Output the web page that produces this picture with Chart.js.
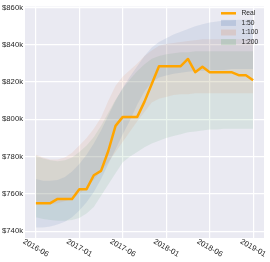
<!DOCTYPE html>
<html>
<head>
<meta charset="utf-8">
<script src="https://cdn.jsdelivr.net/npm/chart.js@4"></script>
<style>
  html, body { margin: 0; padding: 0; background: #fff; }
  #wrap { width: 270px; height: 262px; }
</style>
</head>
<body>
<div id="wrap"><canvas id="myChart" width="270" height="262"></canvas></div>
<script>
// month steps from 2016-06
const monthIndex = [0,1,2,3,4,5,6,7,8,9,10,11,12,13,14,15,16,17,18,19,20,21,22,23,24,25,26,27,28,29,30];

const realValues = [755,755,755,757.3,757.3,757.3,762.5,762.5,770,772.3,783,796.5,801.3,801.3,801.3,809.5,819,828.5,828.5,828.5,828.5,832.4,825.3,828.2,825.3,825.3,825.3,825.3,823.7,823.7,821];

// 1:50 band
const band50Hi = [768,767,767,767.5,769,772,776,781,787,794,802,810,817,823,828.5,834,838.5,841.5,843.5,845.5,847,848.5,850,851,852,852.5,853,853,853.5,853.5,853.5];
const band50Lo = [742,742,742.5,743.5,745,747.5,751,755.5,761,768,776,784,792,799.5,808,815,820,822.5,823.5,824.5,825,825.5,826,826,826.5,826.5,826.5,827,827,827,827];
// 1:100 band
const band100Hi = [781,779.5,778.5,778.5,779.5,782,786,790,795,801,810,818,823,826.5,830,834,837,839.5,840.5,841,841.5,842,842.5,843,843,843,843,843,843,843,843];
const band100Lo = [755,754.5,754.5,755,756,757.5,760,763.5,767.5,772,777,782.5,788,793.5,799,804,809,811,812,813,813.5,813.5,814,814,814,814,814,814,814,814,814];
// 1:200 band
const band200Hi = [780.5,779,778,777.5,778,779.5,782.5,786,790.5,796.5,803.5,810.5,816.5,821.5,826,829.5,832.5,834,835,835.5,836,836,836.5,836.5,836.5,836.5,836.5,836.5,836.5,836.5,836.5];
const band200Lo = [747.5,746.5,746,745.5,745.5,746,747,749.5,753,759,765,771,777,780,782.5,785,787,788.5,790,791,792,793,793.5,794,794.5,794.5,795,795,795,795,795];

const xTickPos = [0,6,12,18,24,30];
const xTickLabels = ['2016-06','2017-01','2017-06','2018-01','2018-06','2019-01'];
const yTicks = [740,760,780,800,820,840,860];

const FONT = '"Liberation Sans", Arial, sans-serif';
const TXT = '#262626';
const C50 = 'rgba(76,114,176,0.12)';
const C100 = 'rgba(221,132,82,0.12)';
const C200 = 'rgba(85,168,104,0.12)';
const CREAL = '#FFA500';

function pts(vals) {
  return vals.map((v, i) => ({ x: monthIndex[i], y: v }));
}

function bandSet(vals, fillTo, color) {
  return {
    data: pts(vals),
    borderColor: 'rgba(0,0,0,0)',
    backgroundColor: color,
    pointRadius: 0,
    fill: fillTo,
    order: 1
  };
}

const bgPlugin = {
  id: 'bg',
  beforeDraw(chart) {
    const { ctx, chartArea: a } = chart;
    ctx.save();
    ctx.fillStyle = '#fff';
    ctx.fillRect(0, 0, chart.width, chart.height);
    ctx.fillStyle = '#EAEAF2';
    ctx.fillRect(a.left, a.top, a.right - a.left, a.bottom - a.top);
    ctx.restore();
  }
};

const labelPlugin = {
  id: 'xlabels',
  afterDraw(chart) {
    const ctx = chart.ctx;
    const xs = chart.scales.x;
    ctx.save();
    ctx.font = '7.7px ' + FONT;
    ctx.fillStyle = TXT;
    ctx.textAlign = 'center';
    ctx.textBaseline = 'middle';
    xTickPos.forEach((v, i) => {
      ctx.save();
      ctx.translate(xs.getPixelForValue(v), chart.chartArea.bottom + 10);
      ctx.rotate(Math.PI / 6);
      ctx.fillText(xTickLabels[i], 0, 0);
      ctx.restore();
    });

    // --legend
    const rows = [
      { t: 'Real', c: CREAL, line: true },
      { t: '1:50', c: 'rgba(76,114,176,0.2)' },
      { t: '1:100', c: 'rgba(221,132,82,0.2)' },
      { t: '1:200', c: 'rgba(85,168,104,0.2)' }
    ];
    ctx.font = '6.7px ' + FONT;
    ctx.textAlign = 'left';
    rows.forEach((r, i) => {
      const y = 13.3 + i * 9.6;
      if (r.line) {
        ctx.strokeStyle = r.c;
        ctx.lineWidth = 2.5;
        ctx.beginPath();
        ctx.moveTo(221, y);
        ctx.lineTo(236, y);
        ctx.stroke();
      } else {
        ctx.fillStyle = r.c;
        ctx.fillRect(221, y - 3, 15, 6);
      }
      ctx.fillStyle = TXT;
      ctx.fillText(r.t, 241.5, y);
    });
    ctx.restore();
  }
};

const chart = new Chart(document.getElementById('myChart').getContext('2d'), {
  type: 'line',
  data: {
    datasets: [
      {
        label: 'Real',
        data: pts(realValues),
        borderColor: CREAL,
        borderWidth: 2.5,
        borderJoinStyle: 'round',
        pointRadius: 0,
        fill: false,
        order: 0
      },
      bandSet(band50Lo, false, C50),
      bandSet(band50Hi, 1, C50),
      bandSet(band100Lo, false, C100),
      bandSet(band100Hi, 3, C100),
      bandSet(band200Lo, false, C200),
      bandSet(band200Hi, 5, C200)
    ]
  },
  options: {
    responsive: false,
    animation: false,
    layout: { padding: { top: 5, right: 6, left: 0, bottom: 0 } },
    plugins: { legend: { display: false }, tooltip: { enabled: false } },
    scales: {
      x: {
        type: 'linear',
        min: -1.5,
        max: 31.5,
        border: { display: false },
        grid: { color: '#fff', lineWidth: 1.2, drawTicks: false },
        ticks: { display: false },
        afterBuildTicks: s => { s.ticks = xTickPos.map(v => ({ value: v })); },
        afterFit: s => { s.height = 24; }
      },
      y: {
        min: 736.3,
        max: 860.5,
        border: { display: false },
        grid: { color: '#fff', lineWidth: 1.2, drawTicks: false },
        ticks: {
          padding: 2,
          color: TXT,
          font: { family: FONT, size: 7.7 },
          callback: v => '$' + v + 'k'
        },
        afterBuildTicks: s => { s.ticks = yTicks.map(v => ({ value: v })); },
        afterFit: s => { s.width = 25; }
      }
    }
  },
  plugins: [bgPlugin, labelPlugin]
});
</script>
</body>
</html>
